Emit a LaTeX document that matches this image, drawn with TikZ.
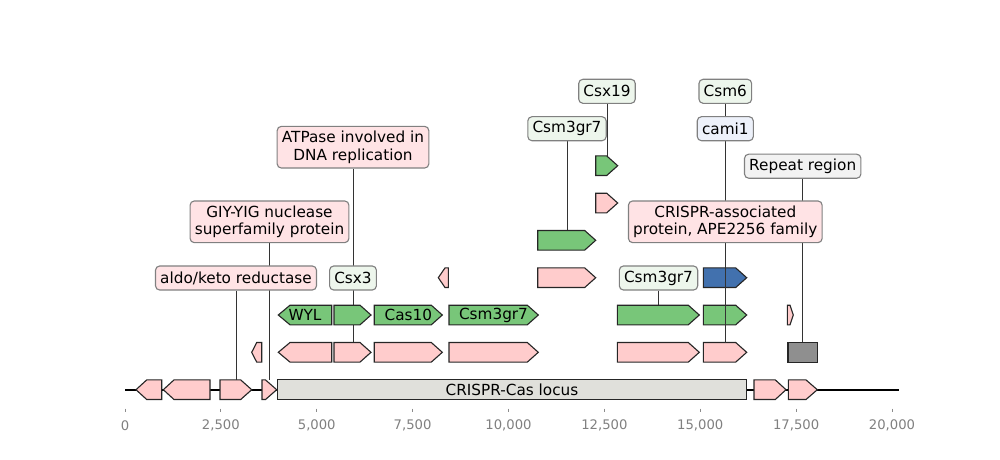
\documentclass[tikz,border=0pt]{standalone}
\usepackage{fontspec}
\setmainfont{DejaVu Sans}

% drawing layers: connectors under the features, connectors over them, label boxes on top
\pgfdeclarelayer{links}
\pgfdeclarelayer{overlinks}
\pgfdeclarelayer{labels}
\pgfsetlayers{links,main,overlinks,labels}

\definecolor{featpink}{HTML}{FFCCCC}
\definecolor{featgreen}{HTML}{78C679}
\definecolor{featblue}{HTML}{4271AE}
\definecolor{featgray}{HTML}{8F8F8F}
\definecolor{locusfill}{HTML}{E0E0DB}
\definecolor{lblpink}{HTML}{FFE3E5}
\definecolor{lblgreen}{HTML}{EDF6EC}
\definecolor{lblblue}{HTML}{EDF1FA}
\definecolor{lblgray}{HTML}{F2F2F2}

\tikzset{
  feat/.style={draw=black!85, line width=0.8pt, line join=miter},
  lbl/.style={draw=black!50, line width=0.8pt, rounded corners=3pt,
    inner xsep=3.4pt, inner ysep=0pt, minimum height=17.3pt,
    font=\fontsize{11pt}{12.75pt}\selectfont, text=black, align=center},
  lbltwo/.style={lbl, minimum height=30pt},
  link/.style={draw=black!80, line width=0.6pt},
  backbone/.style={draw=black, line width=1.4pt},
  axistick/.style={draw=black!45, line width=0.6pt},
  ticklabel/.style={text=black!50, font=\fontsize{9.5pt}{11pt}\selectfont, inner sep=0pt},
  intext/.style={font=\fontsize{11pt}{12.75pt}\selectfont, inner sep=0pt}
}

% forward gene: name, left edge, head start, tip, row centre, fill
\newcommand\featR[6]{%
  \draw[feat, fill=#6] (#2,#5-9.8) -- (#3,#5-9.8) -- (#4,#5) -- (#3,#5+9.8) -- (#2,#5+9.8) -- cycle;
  \coordinate (#1) at ({(#2+#4)/2},#5-9.8);}
% reverse gene: name, tip, head end, right edge, row centre, fill
\newcommand\featL[6]{%
  \draw[feat, fill=#6] (#2,#5) -- (#3,#5-9.8) -- (#4,#5-9.8) -- (#4,#5+9.8) -- (#3,#5+9.8) -- cycle;
  \coordinate (#1) at ({(#2+#4)/2},#5-9.8);}
% plain region: name, left, right, row centre, fill
\newcommand\featB[5]{%
  \draw[feat, fill=#5] (#2,#4-9.8) rectangle (#3,#4+9.8);
  \coordinate (#1) at ({(#2+#3)/2},#4-9.8);}

\begin{document}
\begin{tikzpicture}[x=0.72pt, y=-0.72pt]
\useasboundingbox (0,0) rectangle (1000,459);

% ---- sequence backbone and axis (positions in kb) ----
\coordinate (bb-start) at (125,389.7);
\coordinate (bb-end) at (899,389.7);
\begin{pgfonlayer}{links}
  \draw[backbone] (bb-start) -- (bb-end);
\end{pgfonlayer}
\foreach \v/\t in {0/0, 2.5/{2,500}, 5/{5,000}, 7.5/{7,500}, 10/{10,000},
                   12.5/{12,500}, 15/{15,000}, 17.5/{17,500}, 20/{20,000}} {
  \draw[axistick] ({125+\v*38.35},408.5) -- ({125+\v*38.35},412);
  \node[ticklabel] (tick-\v) at ({125+\v*38.35},425.3) {\t};
}

% ---- row 0 (on the backbone) ----
\def\ry{389.7}
\featL{f-r0a}{136}{146.7}{161.7}{\ry}{featpink}
\featL{f-r0b}{163.3}{174}{210}{\ry}{featpink}
\featR{f-aldo}{220}{240.7}{251.7}{\ry}{featpink}
\featR{f-giy}{262}{265.5}{276.7}{\ry}{featpink}
\featB{f-locus}{277.7}{746.7}{\ry}{locusfill}
\node[intext] (t-locus) at (512,\ry) {CRISPR-Cas locus};
\featR{f-r0c}{754}{775.3}{786}{\ry}{featpink}
\featR{f-r0d}{788.3}{806}{817.3}{\ry}{featpink}

% ---- row 1 ----
\def\ry{352.3}
\featL{f-r1a}{251.7}{256.7}{261.7}{\ry}{featpink}
\featL{f-r1b}{278.3}{290}{331.7}{\ry}{featpink}
\featR{f-atpase}{334}{360}{371}{\ry}{featpink}
\featR{f-r1c}{374.3}{431.3}{442.3}{\ry}{featpink}
\featR{f-r1d}{449}{527.3}{538.3}{\ry}{featpink}
\featR{f-r1e}{617.3}{688.3}{699.3}{\ry}{featpink}
\featR{f-ape}{703.3}{735.7}{746.7}{\ry}{featpink}
\featB{f-repeat}{788}{817.3}{\ry}{featgray}

% ---- row 2 ----
\def\ry{315}
\featL{f-wyl}{278.3}{290}{331.7}{\ry}{featgreen}
\node[intext] (t-wyl) at (305,\ry) {WYL};
\featR{f-csx3}{334}{360}{371}{\ry}{featgreen}
\featR{f-cas10}{374.3}{431.3}{442.3}{\ry}{featgreen}
\node[intext] (t-cas10) at (408.3,\ry) {Cas10};
\featR{f-csm3c}{449}{527.3}{538.3}{\ry}{featgreen}
\node[intext] (t-csm3c) at (493.5,\ry) {Csm3gr7};
\featR{f-csm3b}{617.3}{688.3}{699.3}{\ry}{featgreen}
\featR{f-csm6}{703.3}{735.7}{746.7}{\ry}{featgreen}
\featR{f-r2a}{787.3}{790}{793.3}{\ry}{featpink}

% ---- row 3 ----
\def\ry{277.7}
\featL{f-r3a}{438.3}{445}{448.3}{\ry}{featpink}
\featR{f-r3b}{537.7}{584.7}{595.7}{\ry}{featpink}
\featR{f-cami}{703.3}{735.7}{746.7}{\ry}{featblue}

% ---- rows 4 to 6 ----
\featR{f-csm3a}{537.7}{584.7}{595.7}{240.3}{featgreen}
\featR{f-r5a}{595.7}{606.7}{617.7}{203}{featpink}
\featR{f-csx19}{595.7}{606.7}{617.7}{165.7}{featgreen}

% ---- annotation boxes ----
\begin{pgfonlayer}{labels}
  \node[lbl, fill=lblgreen] (l-csx19) at (607,91.3) {Csx19};
  \node[lbl, fill=lblgreen] (l-csm6) at (725.3,91.3) {Csm6};
  \node[lbl, fill=lblgreen] (l-csm3a) at (567,128.7) {Csm3gr7};
  \node[lbl, fill=lblblue] (l-cami) at (725.3,128.7) {cami1};
  \node[lbltwo, fill=lblpink] (l-atpase) at (353,147.2) {ATPase involved in\\DNA replication};
  \node[lbl, fill=lblgray] (l-repeat) at (802.7,166.2) {Repeat region};
  \node[lbltwo, fill=lblpink] (l-giy) at (269.5,221.8) {GIY-YIG nuclease\\superfamily protein};
  \node[lbltwo, fill=lblpink] (l-ape) at (725.3,221.8) {CRISPR-associated\\protein, APE2256 family};
  \node[lbl, fill=lblpink] (l-aldo) at (236,278) {aldo/keto reductase};
  \node[lbl, fill=lblgreen] (l-csx3) at (353,278) {Csx3};
  \node[lbl, fill=lblgreen] (l-csm3b) at (658.5,278) {Csm3gr7};
\end{pgfonlayer}

% ---- connectors from boxes to genes ----
\begin{pgfonlayer}{links}
  \draw[link] (l-csx19.south) -- (l-csx19.south |- f-csx19);
  \draw[link] (l-csm3a.south) -- (l-csm3a.south |- f-csm3a);
  \draw[link] (l-atpase.south) -- (l-atpase.south |- f-atpase);
  \draw[link] (l-repeat.south) -- (l-repeat.south |- f-repeat);
  \draw[link] (l-giy.south) -- (l-giy.south |- f-giy);
  \draw[link] (l-aldo.south) -- (l-aldo.south |- f-aldo);
  \draw[link] (l-csx3.south) -- (l-csx3.south |- f-csx3);
  \draw[link] (l-csm3b.south) -- (l-csm3b.south |- f-csm3b);
\end{pgfonlayer}
\begin{pgfonlayer}{overlinks}
  \draw[link] (l-csm6.south) -- (l-csm6.south |- f-csm6);
  \draw[link] (l-cami.south) -- (l-cami.south |- f-cami);
  \draw[link] (l-ape.south) -- (l-ape.south |- f-ape);
\end{pgfonlayer}
\end{tikzpicture}
\end{document}
